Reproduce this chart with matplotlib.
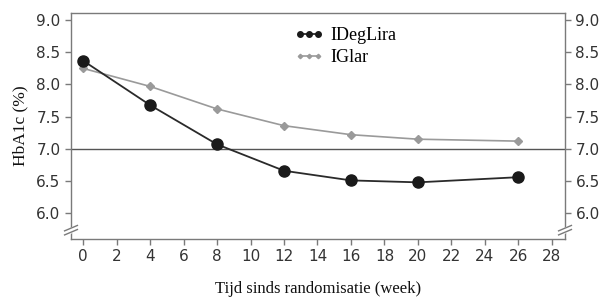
import matplotlib
matplotlib.use("Agg")
import matplotlib.pyplot as plt
import numpy as np

weeks = [0, 4, 8, 12, 16, 20, 26]
ideglira = [8.37, 7.68, 7.07, 6.66, 6.51, 6.48, 6.56]
iglar = [8.25, 7.97, 7.62, 7.36, 7.22, 7.15, 7.12]
xticks = list(range(0, 29, 2))
yticks = [6.0, 6.5, 7.0, 7.5, 8.0, 8.5, 9.0]

AX_COL = "#7a7a7a"
serif = ["Liberation Serif", "DejaVu Serif"]


def main():
    fig = plt.figure(figsize=(6.01, 2.98), dpi=100)
    ax = fig.add_axes([71 / 601, 1 - 239 / 298, (565 - 71) / 601, (239 - 13) / 298])

    ax.axhline(7.0, color="#555555", lw=1.0, zorder=1)
    ax.plot(weeks, iglar, color="#9a9a9a", lw=1.2, marker="D", ms=4.5,
            mfc="#9a9a9a", mec="#9a9a9a", label="IGlar", zorder=2)
    ax.plot(weeks, ideglira, color="#2a2a2a", lw=1.3, marker="o", ms=8,
            mfc="#1a1a1a", mec="#1a1a1a", label="IDegLira", zorder=3)

    ax.set_xlim(-0.72, 28.78)
    ax.set_ylim(5.6, 9.11)
    ax.set_xticks(xticks)
    ax.set_yticks(yticks)
    ax.set_yticklabels(["%.1f" % v for v in yticks])
    ax.tick_params(axis="both", colors=AX_COL, labelcolor="#333333", labelsize=11,
                   direction="out", length=4, width=1)
    ax.tick_params(axis="y", right=True, labelright=True)
    for s in ax.spines.values():
        s.set_color(AX_COL)
        s.set_linewidth(1.0)

    # axis break marks
    for xb in (0, 1):
        ax.plot([xb - 0.012, xb + 0.012], [0.022, 0.052], transform=ax.transAxes,
                color="white", lw=4, clip_on=False, zorder=5)
        for dy in (0.0, 0.018):
            ax.plot([xb - 0.013, xb + 0.013], [0.018 + dy, 0.042 + dy],
                    transform=ax.transAxes, color=AX_COL, lw=1, clip_on=False, zorder=6)

    ax.set_ylabel("HbA1c (%)", fontsize=12.5, family=serif, color="#111111", labelpad=6)
    ax.set_xlabel("Tijd sinds randomisatie (week)", fontsize=12, family=serif,
                  color="#111111", labelpad=12)

    h, l = ax.get_legend_handles_labels()
    ax.legend(h[::-1], l[::-1], loc="upper left", bbox_to_anchor=(0.42, 1.01),
              frameon=False, numpoints=3, markerscale=0.5, handlelength=1.6,
              handletextpad=0.4, labelspacing=0.3,
              prop={"family": serif, "size": 13})

    fig.savefig("out.png", dpi=100)


if __name__ == "__main__":
    main()
